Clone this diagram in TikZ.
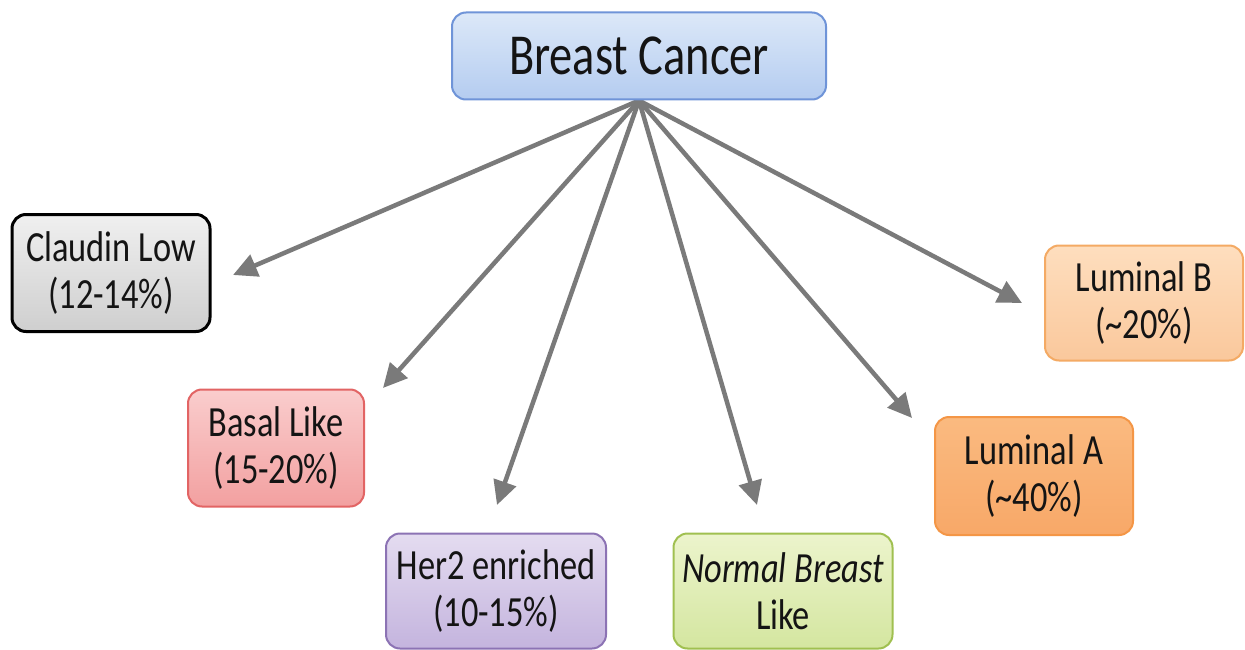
\documentclass[tikz,border=0pt]{standalone}
\usepackage{fontspec}
\setmainfont{Carlito}[FakeStretch=0.8]
\usetikzlibrary{arrows.meta,backgrounds}
\definecolor{arrgray}{HTML}{7A7A7A}
\definecolor{txt}{HTML}{141414}
\definecolor{HTMLblue}{HTML}{6F94D8}
\definecolor{topA}{HTML}{DCE8F8}
\definecolor{topB}{HTML}{B4CCF0}
\begin{document}
\begin{tikzpicture}[x=1pt,y=-1pt,
  box/.style={rectangle, rounded corners=14pt, line width=2pt, align=center,
    inner sep=0pt, font=\fontsize{43}{47}\selectfont, text=txt},
  arr/.style={draw=arrgray, line width=4.5pt, -{Triangle[length=24pt,width=23pt]}, arrgray},
  topbox/.style={box, draw=HTMLblue, top color=topA, bottom color=topB,
    font=\fontsize{58}{60}\selectfont},
]
\useasboundingbox (0,0) rectangle (1245,650);

\node[topbox, minimum width=374pt, minimum height=87pt] (bc) at (639,56) {Breast Cancer};

\node[box, draw=black, line width=3pt, top color=gray!12, bottom color=gray!38,
  minimum width=198pt, minimum height=117pt] (cl) at (111,273) {Claudin Low\\(12-14\%)};
\node[box, draw={rgb,255:red,226;green,100;blue,100}, top color={rgb,255:red,250;green,205;blue,205},
  bottom color={rgb,255:red,242;green,160;blue,160},
  minimum width=176pt, minimum height=117pt] (bl) at (276,448) {Basal Like\\(15-20\%)};
\node[box, draw={rgb,255:red,140;green,115;blue,180}, top color={rgb,255:red,228;green,220;blue,240},
  bottom color={rgb,255:red,196;green,180;blue,222},
  minimum width=220pt, minimum height=115pt] (her) at (496,591) {Her2 enriched\\(10-15\%)};
\node[box, draw={rgb,255:red,160;green,192;blue,80}, top color={rgb,255:red,236;green,244;blue,204},
  bottom color={rgb,255:red,212;green,230;blue,160},
  minimum width=219pt, minimum height=115pt] (nb) at (783,591) {\itshape Normal Breast\\Like};
\node[box, draw={rgb,255:red,244;green,150;blue,70}, top color={rgb,255:red,250;green,186;blue,128},
  bottom color={rgb,255:red,248;green,168;blue,104},
  minimum width=198pt, minimum height=118pt] (la) at (1034,476) {Luminal A\\(\textasciitilde40\%)};
\node[box, draw={rgb,255:red,244;green,170;blue,100}, top color={rgb,255:red,254;green,222;blue,190},
  bottom color={rgb,255:red,250;green,200;blue,156},
  minimum width=198pt, minimum height=115pt] (lb) at (1144,303) {Luminal B\\(\textasciitilde20\%)};

\coordinate (tcl) at (233,275);
\coordinate (tbl) at (383,388);
\coordinate (ther) at (497,505);
\coordinate (tnb) at (757,505);
\coordinate (tla) at (912,418);
\coordinate (tlb) at (1022,303);

\begin{scope}[on background layer]
  \fill[white] (0,0) rectangle (1245,650);
  \foreach \t in {tcl,tbl,ther,tnb,tla,tlb}
    \draw[arr] (bc.south) -- (\t);
\end{scope}
\end{tikzpicture}
\end{document}
